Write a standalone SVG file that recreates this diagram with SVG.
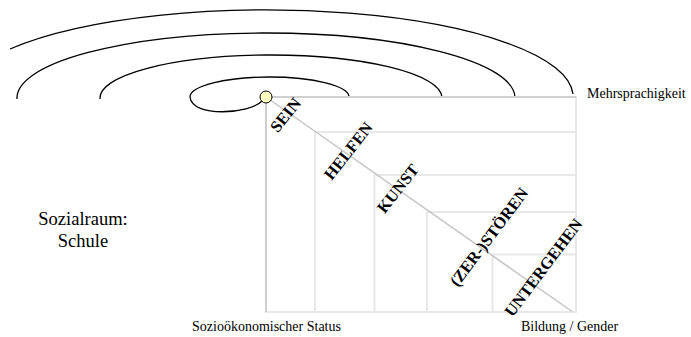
<svg xmlns="http://www.w3.org/2000/svg" width="691" height="337" viewBox="0 0 691 337">
<style>
.arc{fill:none;stroke:#000;stroke-width:1.3}
.grid{fill:none;stroke:#e8e8e8;stroke-width:2}
.frame{fill:none;stroke:#c8c8c8;stroke-width:1.6}
text{font-family:"Liberation Serif","Times New Roman",serif;fill:#000}
.lbl{font-size:14px}
.big{font-size:18.5px;text-anchor:middle}
.rot{font-size:16.5px;font-weight:bold;text-anchor:middle;dominant-baseline:central}
</style>
<rect width="691" height="337" fill="#fff"/>
<g id="arcs">
<path class="arc" d="M 10 49 A 307 87 0 0 1 573 94"/>
<path class="arc" d="M 17 99 A 249 65 0 0 1 515 97"/>
<path class="arc" d="M 100 99 A 171 43 0 0 1 442 97"/>
<path class="arc" d="M 262 101 C 250 114, 192 118, 190 97 A 79.5 20 0 0 1 349 97"/>
</g>
<g id="grid">
<rect class="grid" x="266" y="97" width="310" height="215"/>
<path class="grid" d="M 315 312 V 132 H 576 M 374.5 312 V 175 H 576 M 427 312 V 212 H 576 M 492.5 312 V 254.5 H 576"/>
<path class="frame" d="M 266 312 V 97 H 576"/>
</g>
<g id="connectors">
<line x1="266" y1="97" x2="572" y2="311.5" stroke="#c4c4c4" stroke-width="1.5"/>
</g>
<g id="origin">
<circle cx="266" cy="97" r="6" fill="#ffffc4" stroke="#000" stroke-width="1"/>
</g>
<g id="labels">
<text class="lbl" x="587" y="98">Mehrsprachigkeit</text>
<text class="lbl" x="192" y="331">Sozioökonomischer Status</text>
<text class="lbl" x="521" y="331">Bildung / Gender</text>
<text class="big" x="83" y="225">Sozialraum:</text>
<text class="big" x="83" y="246.7">Schule</text>
</g>
<g id="steps">
<text class="rot" transform="translate(285.5 115) rotate(-51)">SEIN</text>
<text class="rot" transform="translate(348.3 151) rotate(-52)">HELFEN</text>
<text class="rot" transform="translate(398 188.5) rotate(-52)">KUNST</text>
<text class="rot" transform="translate(489 237) rotate(-53)">(ZER-)STÖREN</text>
<text class="rot" transform="translate(543.5 267.5) rotate(-53)">UNTERGEHEN</text>
</g>
</svg>
